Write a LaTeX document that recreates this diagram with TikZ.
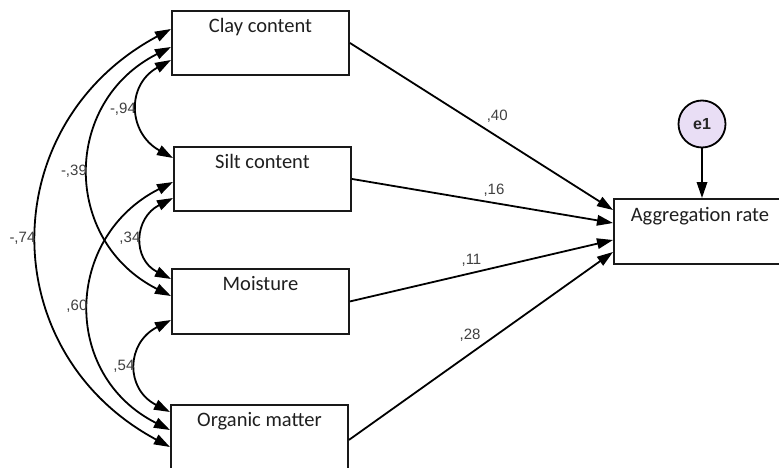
\documentclass[tikz,border=0pt]{standalone}
\usepackage{fontspec}
\setmainfont{Carlito}
\newfontfamily\numfont{Liberation Sans}
\usetikzlibrary{arrows.meta,calc}
\definecolor{errfill}{RGB}{233,222,245}

\begin{document}
\begin{tikzpicture}[x=1pt,y=1pt,
  >={Triangle[length=16pt,width=10.5pt]},
  box/.style={draw=black!90, line width=1.9pt, fill=white, anchor=north west,
    minimum width=177pt, inner xsep=0pt, inner ysep=0pt, text height=21.5pt,
    font=\fontsize{20.5}{24}\selectfont, text=black!88},
  conn/.style={line width=1.8pt, ->},
  cov/.style={line width=1.8pt, <->},
  coef/.style={font=\numfont\fontsize{15}{17}\selectfont, text=black!75, inner sep=1.5pt}
]
\useasboundingbox (0,0) rectangle (779,-468);
\fill[white] (0,0) rectangle (779,-468);
\clip (0,0) rectangle (779,-468);

% observed variables
\node[box, text depth=42.5pt] (clay)  at (171,-10)  {Clay content};
\node[box, text depth=42.5pt] (silt)  at (173,-146) {Silt content};
\node[box, text depth=43.5pt] (moist) at (171,-268) {Moisture};
\node[box, text depth=48.5pt] (org)   at (170,-404) {Organic matter};
\node[box, text height=22.5pt, text depth=42.5pt, minimum width=172pt] (agg) at (613,-198) {Aggregation rate};

% error term
\node[circle, draw, line width=1.8pt, fill=errfill, minimum size=47pt, inner sep=0pt,
      font=\numfont\bfseries\fontsize{16}{18}\selectfont, text=black!85] (e1) at (702,-124) {e1};

% attachment points on the left sides of the predictors
\coordinate (ca) at ($(clay.north west)+(0,-19)$);
\coordinate (cb) at ($(clay.north west)+(0,-37)$);
\coordinate (cc) at ($(clay.north west)+(0,-50)$);
\coordinate (sa) at ($(silt.north west)+(0,-12)$);
\coordinate (sb) at ($(silt.north west)+(0,-36)$);
\coordinate (sc) at ($(silt.north west)+(0,-52)$);
\coordinate (ma) at ($(moist.north west)+(0,-11)$);
\coordinate (mb) at ($(moist.north west)+(0,-28)$);
\coordinate (mc) at ($(moist.north west)+(0,-52)$);
\coordinate (oa) at ($(org.north west)+(0,-8)$);
\coordinate (ob) at ($(org.north west)+(0,-26)$);
\coordinate (oc) at ($(org.north west)+(0,-43)$);

% attachment points on the left side of the outcome
\coordinate (ta) at ($(agg.north west)+(0,-12)$);
\coordinate (tb) at ($(agg.north west)+(0,-25)$);
\coordinate (tc) at ($(agg.north west)+(0,-42)$);
\coordinate (td) at ($(agg.north west)+(0,-54)$);

% covariances
\draw[cov] (cc) .. controls ($(cc)+(-45,-25)$) and ($(sa)+(-45,25)$) .. (sa)
  node[coef, pos=0.5, anchor=east] {-,94};
\draw[cov] (cb) .. controls ($(cb)+(-109,-55)$) and ($(mb)+(-109,55)$) .. (mb)
  node[coef, pos=0.5, anchor=east] {-,39};
\draw[cov] (ca) .. controls ($(ca)+(-177,-95)$) and ($(oc)+(-177,95)$) .. (oc)
  node[coef, pos=0.5, anchor=east] {-,74};
\draw[cov] (sc) .. controls ($(sc)+(-39,-20)$) and ($(ma)+(-39,20)$) .. (ma)
  node[coef, pos=0.5, anchor=east] {,34};
\draw[cov] (sb) .. controls ($(sb)+(-109,-55)$) and ($(ob)+(-109,55)$) .. (ob)
  node[coef, pos=0.5, anchor=east] {,60};
\draw[cov] (mc) .. controls ($(mc)+(-45,-23)$) and ($(oa)+(-45,23)$) .. (oa)
  node[coef, pos=0.5, anchor=east] {,54};

% regression paths
\draw[conn] (clay.east)  -- (ta) node[coef, pos=0.56,  yshift=20pt] {,40};
\draw[conn] (silt.east)  -- (tb) node[coef, pos=0.544, yshift=12.5pt] {,16};
\draw[conn] (moist.east) -- (tc) node[coef, pos=0.462, yshift=13pt] {,11};
\draw[conn] (org.east)   -- (td) node[coef, pos=0.459, yshift=18.5pt] {,28};

\draw[conn] (e1) -- (e1 |- agg.north);
\end{tikzpicture}
\end{document}
